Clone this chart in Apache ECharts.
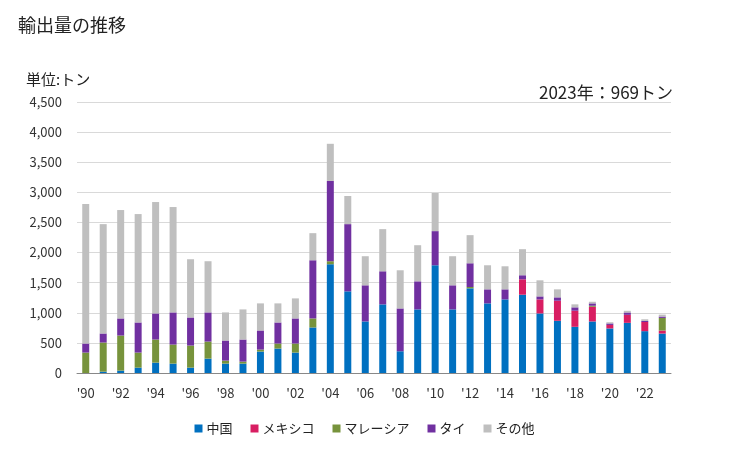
<!DOCTYPE html>
<html><head><meta charset="utf-8">
<script src="https://cdn.jsdelivr.net/npm/echarts@6/dist/echarts.min.js"></script>
<style>html,body{margin:0;padding:0;background:#fff}#c{width:729px;height:450px}</style>
</head><body><div id="c"></div>
<script>
const years = ["1990","1991","1992","1993","1994","1995","1996","1997","1998","1999","2000","2001","2002","2003","2004","2005","2006","2007","2008","2009","2010","2011","2012","2013","2014","2015","2016","2017","2018","2019","2020","2021","2022","2023"];
const china    = [0,22,39,89,172,156,89,239,156,156,356,406,339,756,1806,1356,856,1139,361,1056,1789,1056,1406,1156,1222,1300,989,867,767,856,740,833,695,655];
const mexico   = [0,0,0,0,0,0,0,0,0,0,0,0,0,0,0,0,0,0,0,0,0,0,0,0,0,256,233,333,267,244,58,133,152,50];
const malaysia = [339,484,583,250,384,316,367,283,50,33,33,83,150,150,50,0,0,0,0,0,0,0,22,0,0,0,0,0,0,17,0,0,0,210];
const thai     = [150,150,284,500,433,534,466,484,333,367,317,350,417,966,1333,1116,600,550,711,466,567,400,394,233,167,67,50,56,56,39,25,39,17,22];
const others   = [2317,1816,1800,1800,1850,1750,967,850,467,500,450,317,333,450,617,467,483,700,634,600,633,483,467,400,383,433,267,133,50,27,20,28,28,32];
const seriesNames = ["中国","メキシコ","マレーシア","タイ","その他"];
const colors = ["#0070C0","#D81E62","#77933C","#7030A0","#BFBFBF"];
const font = "'Noto Sans CJK JP', 'Noto Sans', sans-serif";

const chart = echarts.init(document.getElementById('c'));
const data = [china, mexico, malaysia, thai, others];
chart.setOption({
  animation:false,
  textStyle:{fontFamily:font},
  title:[
    {text:"輸出量の推移", left:13, top:11, textStyle:{fontSize:18, fontWeight:'normal', color:'#222', fontFamily:font}},
    {text:"単位:トン", left:21, top:67, textStyle:{fontSize:15, fontWeight:'normal', color:'#222', fontFamily:font}},
    {text:"2023年：969トン", right:51, top:79, textStyle:{fontSize:17, fontWeight:'normal', color:'#222', fontFamily:font}}
  ],
  legend:{
    bottom:10, left:'center', itemWidth:8, itemHeight:8, itemGap:18,
    icon:'rect', textStyle:{fontSize:13, color:'#222', fontFamily:font, padding:[0,0,0,-1]},
    data:seriesNames
  },
  grid:{left:77, right:58, top:102, bottom:77},
  xAxis:{
    type:'category', data:years,
    axisTick:{show:false},
    axisLine:{lineStyle:{color:'#888', width:1}},
    axisLabel:{interval:1, color:'#333', fontSize:13, margin:14,
      formatter:v=>"'"+v.slice(2)}
  },
  yAxis:{
    type:'value', min:0, max:4500, interval:500,
    axisLine:{show:false}, axisTick:{show:false},
    splitLine:{lineStyle:{color:'#d9d9d9'}},
    axisLabel:{color:'#333', fontSize:13, margin:15,
      formatter:v=>v.toLocaleString('en-US')}
  },
  series: seriesNames.map((n,i)=>({
    name:n, type:'bar', stack:'total', data:data[i], barWidth:'40%',
    itemStyle:{color:colors[i]}
  }))
});
</script></body></html>
